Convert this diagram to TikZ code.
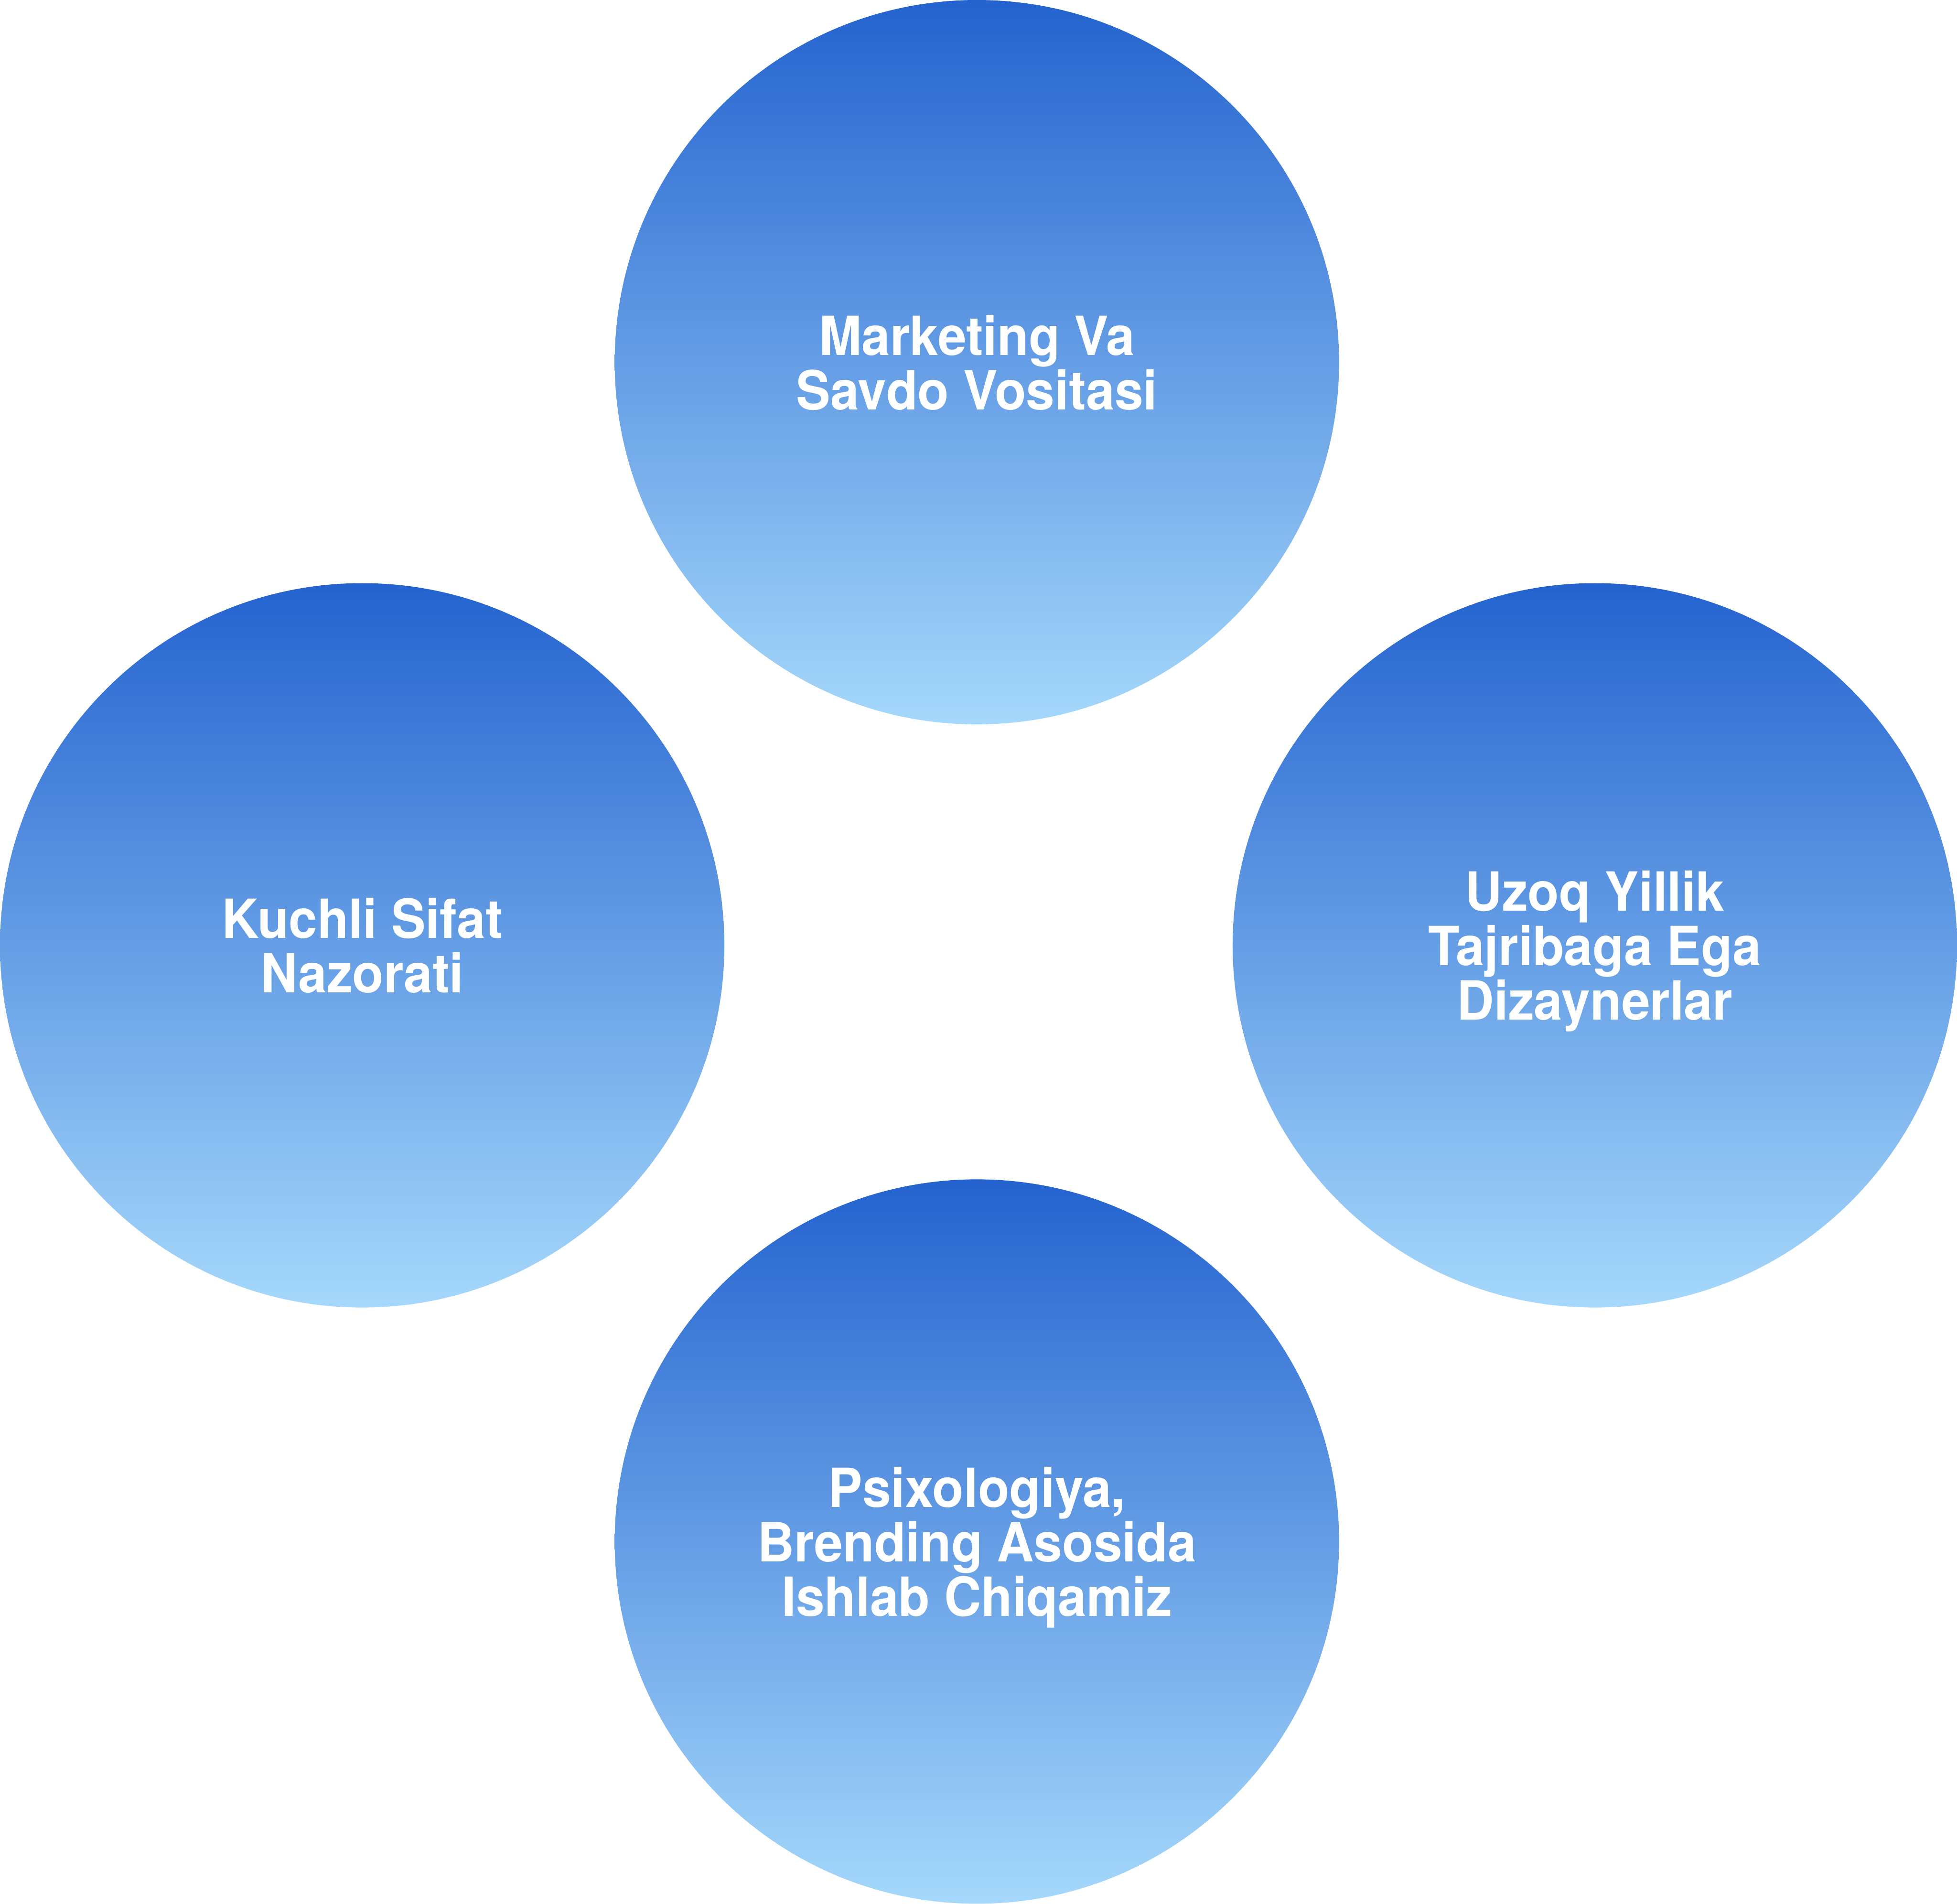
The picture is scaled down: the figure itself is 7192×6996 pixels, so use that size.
\documentclass[tikz,border=0pt]{standalone}
\usepackage{fontspec}
\newfontfamily\labfont[FakeStretch=0.95]{TeX Gyre Heros}
\definecolor{topblue}{HTML}{2463CF}
\definecolor{botblue}{HTML}{A5D8FB}
\tikzset{
  bubble/.style={circle, minimum size=58.03mm, inner sep=0pt, draw=none,
    text=white, align=center, text depth=0pt,
    font=\labfont\bfseries\fontsize{12.3}{12.41}\selectfont},
  bubblefill/.style={top color=topblue, bottom color=botblue, draw=none}
}
\begin{document}
\begin{tikzpicture}[x=0.021802mm, y=-0.021802mm]
\useasboundingbox (0,0) rectangle (7192,6996);
\coordinate (ctop) at (3590,1331);
\coordinate (cleft) at (1331,3474);
\coordinate (cright) at (5861,3474);
\coordinate (cbottom) at (3590,5665);
\foreach \c in {ctop,cleft,cright,cbottom}
  \shade[bubblefill] (\c) circle[radius=29.016mm];
\node[bubble] (top) at (ctop) {Marketing Va\\Savdo Vositasi};
\node[bubble] (left) at (cleft) {Kuchli Sifat\\Nazorati};
\node[bubble] (right) at (cright) {Uzoq Yillik\\Tajribaga Ega\\Dizaynerlar};
\node[bubble] (bottom) at (cbottom) {Psixologiya,\\Brending Asosida\\Ishlab Chiqamiz};
\end{tikzpicture}
\end{document}
